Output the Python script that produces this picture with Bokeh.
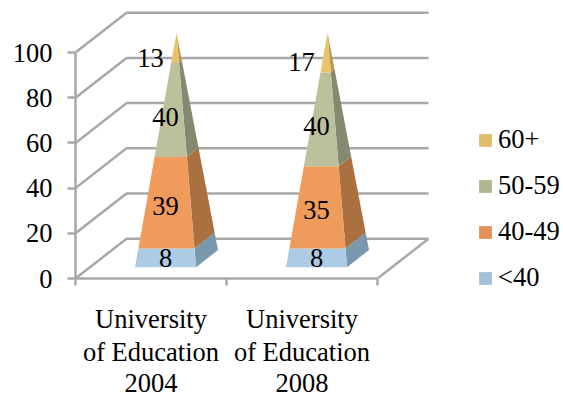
from bokeh.core.properties import value
from bokeh.embed import file_html
from bokeh.models import AllLabels, ColumnDataSource, FixedTicker, Legend, LegendItem, LinearAxis, Range1d
from bokeh.plotting import figure
from bokeh.resources import INLINE

# Staff age shares per university survey, stacked from the youngest group up
category_rows = [
    ["University", "University"],
    ["of Education", "of Education"],
    ["2004", "2008"],
]
groups = ["<40", "40-49", "50-59", "60+"]
under_40 = [8, 8]
age_40_49 = [39, 35]
age_50_59 = [40, 40]
age_60_plus = [13, 17]

front_colors = ["#abcce4", "#ee9b5c", "#bcc09b", "#e8c26d"]
side_colors = ["#7a98ad", "#ab7040", "#858970", "#b8994f"]
legend_colors = ["#a3c0da", "#e39358", "#b2b690", "#dfbd6c"]

FONT = "Liberation Serif"
FONT_SIZE = "26.5px"
GRID = "#a8a8a8"

# Oblique projection: one full depth step moves a point right (categories) and up (values)
DEPTH_X = 0.338
DEPTH_Y = 17.6
HALF_WIDTH = 0.202
HALF_DEPTH = 0.215
PX_PER_CAT = 151
PX_PER_VAL = 2.26


def project(cat, side, depth, val):
    """Screen-plane position of a pyramid point; side and depth run from -1 to 1."""
    shrink = 1 - val / 100
    d = 0.5 + HALF_DEPTH * depth * shrink
    return cat + 0.5 + HALF_WIDTH * side * shrink + d * DEPTH_X, val + d * DEPTH_Y


p = figure(
    width=563, height=396, frame_width=360, frame_height=272,
    min_border_left=75, min_border_right=0, min_border_top=6, min_border_bottom=0,
    x_range=Range1d(0, 360 / PX_PER_CAT), y_range=Range1d(0, 272 / PX_PER_VAL),
    output_backend="svg", toolbar_location=None,
    background_fill_color=None, border_fill_color="white", outline_line_color=None,
)
p.grid.visible = False

# Walls and floor of the chart box
for v in [0, 20, 40, 60, 80, 100]:
    p.line([0, DEPTH_X, 2 + DEPTH_X], [v, v + DEPTH_Y, v + DEPTH_Y], line_color=GRID, line_width=2.5)
p.line([2, 2 + DEPTH_X], [0, DEPTH_Y], line_color=GRID, line_width=2.5)

# Pyramids: one front and one right face per stacked segment
series = [under_40, age_40_49, age_50_59, age_60_plus]
n_cats = len(under_40)
for cat in range(n_cats):
    low = 0
    for i, seg in enumerate(series):
        high = low + seg[cat]
        side = [project(cat, 1, -1, low), project(cat, 1, 1, low), project(cat, 1, 1, high), project(cat, 1, -1, high)]
        front = [project(cat, -1, -1, low), project(cat, 1, -1, low), project(cat, 1, -1, high), project(cat, -1, -1, high)]
        p.patch([q[0] for q in side], [q[1] for q in side], fill_color=side_colors[i], line_color=None)
        p.patch([q[0] for q in front], [q[1] for q in front], fill_color=front_colors[i], line_color=None)
        low = high

# Segment value labels sit on the front plane of the base; the narrow top group moves left
label_x, label_y, label_text = [], [], []
for cat in range(n_cats):
    low = 0
    for i, seg in enumerate(series):
        mid = low + seg[cat] / 2
        shift = -0.1 if i == len(series) - 1 else 0
        label_x.append(cat + 0.5 + shift + (0.5 - HALF_DEPTH) * DEPTH_X)
        label_y.append(mid + (0.5 - HALF_DEPTH) * DEPTH_Y - mid * 0.01)
        label_text.append(str(seg[cat]))
        low += seg[cat]
p.text(
    x="x", y="y", text="t",
    source=ColumnDataSource(dict(x=label_x, y=label_y, t=label_text)),
    text_font=value(FONT), text_font_size=value(FONT_SIZE), text_color="black",
    text_align="center", text_baseline="middle",
)

# Value axis
y = p.yaxis[0]
y.ticker = FixedTicker(ticks=[0, 20, 40, 60, 80, 100])
y.bounds = (0, 100)
y.axis_line_color = GRID
y.axis_line_width = 2.5
y.major_tick_line_color = GRID
y.major_tick_line_width = 2.5
y.major_tick_in = 0
y.major_tick_out = 8
y.minor_tick_line_color = None
y.major_label_standoff = 15
y.major_label_text_font = FONT
y.major_label_text_font_size = FONT_SIZE
y.major_label_text_color = "black"

# Category axis: one stacked axis per text row keeps the lines closely spaced
x = p.xaxis[0]
row_standoffs = [18, 0, 4]
for row, names in enumerate(category_rows):
    axis = x if row == 0 else LinearAxis()
    axis.ticker = FixedTicker(ticks=[0.5, 1.5], minor_ticks=[0, 1, 2] if row == 0 else [])
    axis.major_label_overrides = {0.5: names[0], 1.5: names[1]}
    axis.major_label_policy = AllLabels()
    axis.major_tick_line_color = None
    axis.major_tick_in = 0
    axis.major_tick_out = 0
    axis.major_label_standoff = row_standoffs[row]
    axis.major_label_text_font = FONT
    axis.major_label_text_font_size = FONT_SIZE
    axis.major_label_text_color = "black"
    if row == 0:
        axis.bounds = (0, 2)
        axis.axis_line_color = GRID
        axis.axis_line_width = 2.5
        axis.minor_tick_line_color = GRID
        axis.minor_tick_line_width = 2.5
        axis.minor_tick_in = 0
        axis.minor_tick_out = 7
    else:
        axis.axis_line_color = None
        axis.minor_tick_line_color = None
        p.add_layout(axis, "below")

# Legend, oldest group on top; zero-area patches carry the swatch colours
items = []
for name, color in zip(groups, legend_colors):
    r = p.patch([0, 0, 0], [0, 0, 0], fill_color=color, line_color=None)
    items.append(LegendItem(label=name, renderers=[r]))
legend = Legend(
    items=items[::-1], location=(42, -15), orientation="vertical",
    glyph_width=16, glyph_height=16, label_standoff=5, spacing=15,
    label_text_font=FONT, label_text_font_size=FONT_SIZE, label_text_color="black",
    background_fill_alpha=0, border_line_color=None, padding=0, margin=0,
)
p.add_layout(legend, "right")

open("out.html", "w").write(file_html(p, INLINE))
